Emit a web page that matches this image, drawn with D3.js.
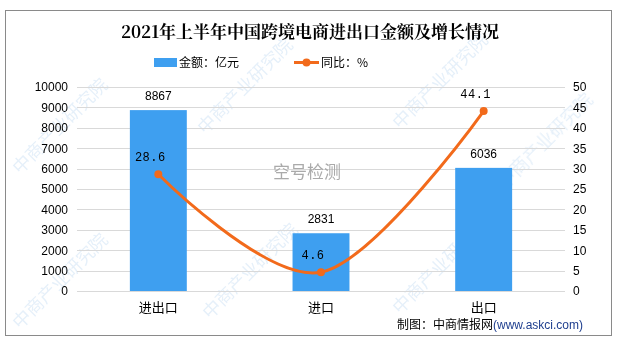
<!DOCTYPE html>
<html><head><meta charset="utf-8">
<script src="https://cdn.jsdelivr.net/npm/d3@7/dist/d3.min.js"></script>
<style>body{margin:0;background:#fff}svg{display:block}</style>
</head><body>
<svg id="c" width="621" height="347"></svg>
<script>
const categories = ["进出口", "进口", "出口"];
const amounts = [8867, 2831, 6036];
const growth = [28.6, 4.6, 44.1];
const leftTicks = [0,1000,2000,3000,4000,5000,6000,7000,8000,9000,10000];
const rightTicks = [0,5,10,15,20,25,30,35,40,45,50];
const title = "2021年上半年中国跨境电商进出口金额及增长情况";
const legendLabels = ["金额：亿元", "同比：%"];

const svg = d3.select("#c");
const font = "'Liberation Sans','DejaVu Sans',sans-serif";
const cjk = "'Noto Sans CJK SC',sans-serif";

// watermarks
const wm = svg.append("g").attr("opacity",0.12);
const wpos = [[20,175],[20,330],[205,135],[210,320],[400,130],[400,315],[505,190]];
wpos.forEach(p=>{
  wm.append("text").attr("transform",`translate(${p[0]},${p[1]}) rotate(-45)`)
    .attr("font-family",cjk).attr("font-size",18).attr("fill","#2a7fd0").text("中商产业研究院");
});

svg.append("rect").attr("x",5.5).attr("y",10.5).attr("width",606).attr("height",325)
  .attr("fill","none").attr("stroke","#8a8a8a").attr("stroke-width",1);

const x = d3.scaleBand().domain(categories).range([77,565]).paddingInner(0).paddingOuter(0);
const yL = d3.scaleLinear().domain([0,10000]).range([291,87]);
const yR = d3.scaleLinear().domain([0,50]).range([291,87]);

// gridlines
svg.append("g").selectAll("line").data(leftTicks).join("line")
  .attr("x1",77).attr("x2",565).attr("y1",d=>Math.round(yL(d))+0.5).attr("y2",d=>Math.round(yL(d))+0.5)
  .attr("stroke","#d9d9d9").attr("stroke-width",1);

const gl = svg.append("g").attr("transform","translate(77,0)")
  .call(d3.axisLeft(yL).tickValues(leftTicks).tickSize(0).tickPadding(9).tickFormat(d3.format("d")));
gl.select(".domain").remove();
gl.selectAll("text").attr("font-family",font).attr("font-size",12).attr("fill","#000");

const gr = svg.append("g").attr("transform","translate(565,0)")
  .call(d3.axisRight(yR).tickValues(rightTicks).tickSize(0).tickPadding(8).tickFormat(d3.format("d")));
gr.select(".domain").remove();
gr.selectAll("text").attr("font-family",font).attr("font-size",12).attr("fill","#000");

const gx = svg.append("g").attr("transform","translate(0,291)")
  .call(d3.axisBottom(x).tickSize(0).tickPadding(12));
gx.select(".domain").remove();
gx.selectAll("text").attr("font-family",cjk).attr("font-size",13).attr("fill","#000");

const bw = x.bandwidth()*0.35;
svg.append("g").selectAll("rect").data(amounts).join("rect")
  .attr("x",(d,i)=>x(categories[i])+x.bandwidth()/2-bw/2).attr("width",bw)
  .attr("y",d=>yL(d)).attr("height",d=>yL(0)-yL(d)).attr("fill","#3e9ff0");

svg.append("g").selectAll("text").data(amounts).join("text")
  .attr("x",(d,i)=>x(categories[i])+x.bandwidth()/2).attr("y",d=>yL(d)-10)
  .attr("text-anchor","middle").attr("font-family",font).attr("font-size",12).text(d=>d);

// watermark text center
svg.append("text").attr("x",307).attr("y",178).attr("text-anchor","middle")
  .attr("font-family",cjk).attr("font-size",17).attr("fill","#aaaaaa").text("空号检测");

const line = d3.line().x((d,i)=>x(categories[i])+x.bandwidth()/2).y(d=>yR(d)).curve(d3.curveCardinal.tension(0));
svg.append("path").datum(growth).attr("d",line).attr("fill","none").attr("stroke","#f26a1b").attr("stroke-width",3);
svg.append("g").selectAll("circle").data(growth).join("circle")
  .attr("cx",(d,i)=>x(categories[i])+x.bandwidth()/2).attr("cy",d=>yR(d)).attr("r",4).attr("fill","#f26a1b");
svg.append("g").selectAll("text").data(growth).join("text")
  .attr("x",(d,i)=>x(categories[i])+x.bandwidth()/2-8).attr("y",d=>yR(d)-13)
  .attr("text-anchor","middle").attr("font-family","'Liberation Mono','DejaVu Sans Mono',monospace").attr("font-size",12)
  .attr("letter-spacing","0.5").text(d=>d.toFixed(1));

// title
svg.append("text").attr("x",310).attr("y",38).attr("text-anchor","middle")
  .attr("font-family","'Noto Serif CJK SC','Noto Sans CJK SC',serif").attr("font-weight","bold").attr("font-size",17).text(title);

// legend
svg.append("rect").attr("x",154).attr("y",58).attr("width",23).attr("height",9).attr("fill","#3e9ff0");
svg.append("text").attr("x",179).attr("y",67).attr("font-family",cjk).attr("font-size",12).text(legendLabels[0]);
svg.append("line").attr("x1",294).attr("x2",319).attr("y1",62.5).attr("y2",62.5).attr("stroke","#f26a1b").attr("stroke-width",3);
svg.append("circle").attr("cx",306.5).attr("cy",62.5).attr("r",4).attr("fill","#f26a1b");
svg.append("text").attr("x",321).attr("y",67).attr("font-family",cjk).attr("font-size",12).text(legendLabels[1]);

// source
const src = svg.append("text").attr("x",397).attr("y",329).attr("font-family",cjk).attr("font-size",12);
src.append("tspan").attr("fill","#000").text("制图：中商情报网");
src.append("tspan").attr("fill","#1f3f8f").attr("font-family",font).text("(www.askci.com)");
</script>
</body></html>
